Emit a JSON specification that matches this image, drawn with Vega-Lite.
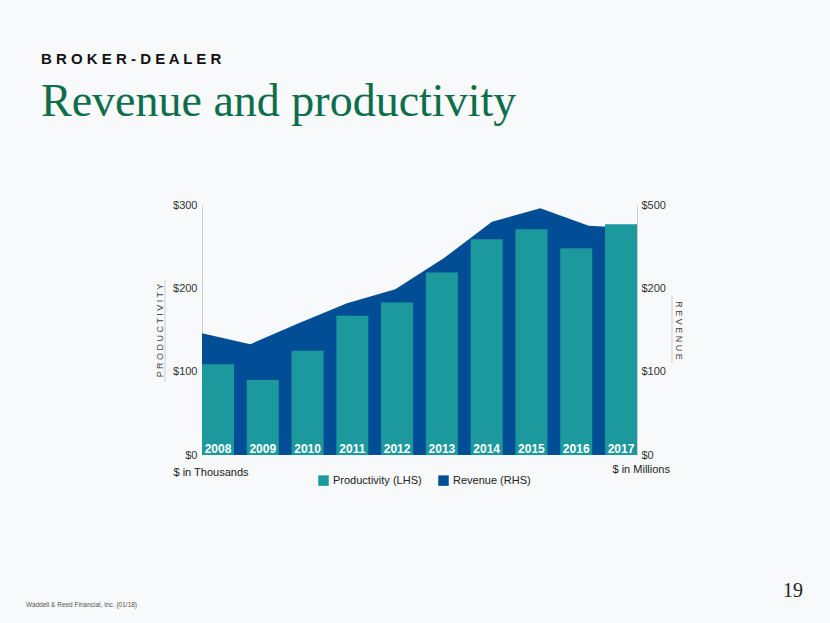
{
  "$schema": "https://vega.github.io/schema/vega-lite/v6.json",
  "width": 435,
  "height": 250,
  "autosize": "none",
  "padding": {"left": 202, "top": 205, "right": 193, "bottom": 168},
  "background": "#f7f9fb",
  "config": {"view": {"stroke": null}, "font": "Liberation Sans"},
  "title": {
    "text": "B R O K E R - D E A L E R",
    "subtitle": "Revenue and productivity",
    "anchor": "start",
    "frame": "group",
    "dx": -161,
    "offset": 74,
    "font": "Liberation Sans",
    "fontSize": 15,
    "fontWeight": "bold",
    "color": "#111111",
    "subtitleFont": "Liberation Serif",
    "subtitleFontSize": 46,
    "subtitleColor": "#0e6e4c",
    "subtitlePadding": 13
  },
  "data": {
    "values": [
      {"year": "2008", "productivity": 109, "revenue": 146},
      {"year": "2009", "productivity": 90, "revenue": 133},
      {"year": "2010", "productivity": 125, "revenue": 158},
      {"year": "2011", "productivity": 167, "revenue": 182},
      {"year": "2012", "productivity": 183, "revenue": 199},
      {"year": "2013", "productivity": 219, "revenue": 236},
      {"year": "2014", "productivity": 259, "revenue": 280},
      {"year": "2015", "productivity": 271, "revenue": 296},
      {"year": "2016", "productivity": 248, "revenue": 275},
      {"year": "2017", "productivity": 277, "revenue": 272}
    ]
  },
  "layer": [
    {
      "mark": {"type": "area", "interpolate": "linear"},
      "encoding": {
        "x": {
          "field": "year", "type": "ordinal",
          "scale": {"type": "point", "padding": 0},
          "axis": {
            "orient": "top", "labels": false, "ticks": false, "domain": false,
            "title": "$ in Millions", "titleX": 410, "titleY": 264,
            "titleAlign": "left", "titleBaseline": "middle", "titleAnchor": null,
            "titleFontSize": 11, "titleFontWeight": "normal", "titleColor": "#222222"
          }
        },
        "y": {
          "field": "revenue", "type": "quantitative",
          "scale": {"domain": [0, 300]},
          "axis": {
            "orient": "right", "values": [0, 100, 200, 300],
            "labelExpr": "datum.value == 300 ? '$500' : '$' + datum.value",
            "grid": false, "ticks": false, "domainColor": "#cccccc",
            "labelPadding": 4, "labelFontSize": 11, "labelColor": "#333333",
            "title": "R E V E N U E", "titleAngle": 90, "titleX": 41, "titleY": 125,
            "titleAlign": "center", "titleBaseline": "middle",
            "titleFontSize": 9, "titleFontWeight": "normal", "titleColor": "#444444"
          }
        },
        "color": {"datum": "Revenue (RHS)"}
      }
    },
    {
      "layer": [
        {
          "mark": {"type": "bar"},
          "encoding": {
            "x": {
              "field": "year", "type": "nominal",
              "scale": {"paddingInner": 0.285, "paddingOuter": 0},
              "axis": {
                "orient": "bottom", "labels": false, "ticks": false, "domain": false,
                "title": "$ in Thousands", "titleX": -29, "titleY": 17,
                "titleAlign": "left", "titleBaseline": "middle", "titleAnchor": null,
                "titleFontSize": 11, "titleFontWeight": "normal", "titleColor": "#222222"
              }
            },
            "y": {
              "field": "productivity", "type": "quantitative",
              "scale": {"domain": [0, 300]},
              "axis": {
                "orient": "left", "values": [0, 100, 200, 300],
                "labelExpr": "'$' + datum.value",
                "grid": false, "ticks": false, "domainColor": "#cccccc",
                "labelPadding": 5, "labelFontSize": 11, "labelColor": "#333333",
                "title": "P R O D U C T I V I T Y", "titleAngle": -90, "titleX": -43, "titleY": 125,
                "titleAlign": "center", "titleBaseline": "middle",
                "titleFontSize": 9, "titleFontWeight": "normal", "titleColor": "#444444"
              }
            },
            "color": {
              "datum": "Productivity (LHS)",
              "scale": {"domain": ["Productivity (LHS)", "Revenue (RHS)"], "range": ["#1b999d", "#024e96"]},
              "legend": {
                "orient": "none", "legendX": 116, "legendY": 270, "direction": "horizontal",
                "title": null, "symbolType": "square", "symbolSize": 110, "symbolStrokeWidth": 0,
                "symbolOpacity": 1, "labelFontSize": 11, "labelColor": "#222222", "columnPadding": 16
              }
            }
          }
        },
        {
          "mark": {"type": "text", "baseline": "middle", "dy": -6, "fontSize": 12, "fontWeight": "bold", "color": "white"},
          "encoding": {
            "x": {"field": "year", "type": "nominal"},
            "y": {"datum": 0},
            "text": {"field": "year"}
          }
        }
      ]
    },
    {
      "data": {"values": [{}]},
      "mark": {"type": "rule", "color": "#cccccc", "strokeWidth": 1},
      "encoding": {"x": {"value": -37}, "y": {"value": 75}, "y2": {"value": 177}}
    },
    {
      "data": {"values": [{}]},
      "mark": {"type": "rule", "color": "#cccccc", "strokeWidth": 1},
      "encoding": {"x": {"value": 470}, "y": {"value": 91}, "y2": {"value": 158}}
    },
    {
      "data": {"values": [{}]},
      "mark": {"type": "text", "align": "left", "baseline": "middle", "fontSize": 6.5, "color": "#555555"},
      "encoding": {"x": {"value": -176}, "y": {"value": 400}, "text": {"value": "Waddell & Reed Financial, Inc. (01/18)"}}
    },
    {
      "data": {"values": [{}]},
      "mark": {"type": "text", "align": "right", "baseline": "alphabetic", "font": "Liberation Serif", "fontSize": 20, "color": "#222222"},
      "encoding": {"x": {"value": 601}, "y": {"value": 392}, "text": {"value": "19"}}
    }
  ],
  "resolve": {"scale": {"x": "independent", "y": "independent"}, "axis": {"x": "independent", "y": "independent"}}
}
